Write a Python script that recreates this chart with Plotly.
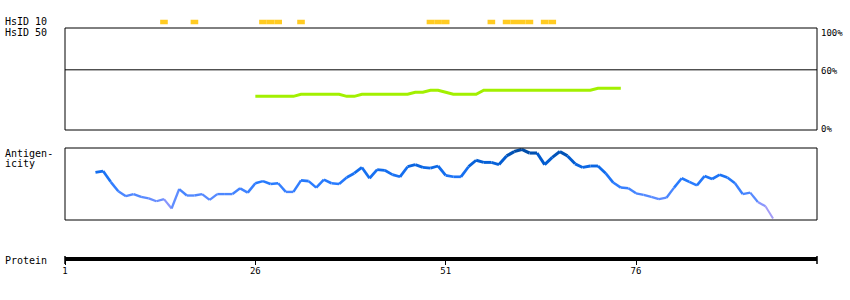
import plotly.graph_objects as go

# ---------------- data ----------------
hsid10_residues = [14, 18, 27, 28, 29, 32, 49, 50, 51, 57, 59, 60, 61, 62, 64, 65]

hsid50_residues = list(range(26, 75))
hsid50_identity = [33, 33, 33, 33, 33, 33,          # 26-31
                   35, 35, 35, 35, 35, 35,          # 32-37
                   33, 33,                          # 38-39
                   35, 35, 35, 35, 35, 35, 35,      # 40-46
                   37, 37, 39, 39, 37,              # 47-51
                   35, 35, 35, 35,                  # 52-55
                   39, 39, 39, 39, 39, 39, 39, 39,  # 56-63
                   39, 39, 39, 39, 39, 39, 39,      # 64-70
                   41, 41, 41, 41]                  # 71-74

antigen_residues = list(range(5, 95))
antigen_values = [0.66, 0.68, 0.53, 0.40, 0.33, 0.36, 0.32, 0.30, 0.26, 0.29,   # 5-14
                  0.16, 0.43, 0.34, 0.34, 0.36, 0.28, 0.36, 0.36, 0.36, 0.44,   # 15-24
                  0.38, 0.51, 0.54, 0.50, 0.51, 0.39, 0.39, 0.55, 0.54, 0.45,   # 25-34
                  0.56, 0.51, 0.50, 0.59, 0.65, 0.73, 0.58, 0.70, 0.69, 0.63,   # 35-44
                  0.60, 0.74, 0.77, 0.73, 0.72, 0.75, 0.62, 0.60, 0.60, 0.74,   # 45-54
                  0.83, 0.80, 0.80, 0.77, 0.89, 0.95, 0.98, 0.93, 0.93, 0.77,   # 55-64
                  0.87, 0.95, 0.89, 0.78, 0.73, 0.75, 0.75, 0.65, 0.52, 0.45,   # 65-74
                  0.44, 0.37, 0.35, 0.32, 0.29, 0.31, 0.45, 0.58, 0.53, 0.48,   # 75-84
                  0.61, 0.57, 0.63, 0.59, 0.51, 0.36, 0.38, 0.25, 0.19, 0.02]   # 85-94

protein_range = [1, 99.77]
protein_tickvals = [1, 26, 51, 76]
protein_ticktext = ["1", "26", "51", "76"]

identity_tickvals = [100, 60, 0]
identity_ticktext = ["100%", "60%", "0%"]

# ---------------- layout helpers ----------------
W, H = 850, 300
L, R = 65, 33
PW = W - L - R


def px_x(px):
    return (px - L) / PW


def px_y(py):
    return 1 - py / H


FONT = "DejaVu Sans Mono"

stops = [(0.0, (180, 162, 242)), (0.2, (150, 152, 252)), (0.3, (92, 140, 255)),
         (0.5, (42, 124, 255)), (0.7, (16, 108, 236)), (0.85, (0, 90, 205)),
         (1.0, (0, 72, 155))]


def color_for(v):
    v = max(0.0, min(1.0, v))
    for (a, ca), (b, cb) in zip(stops[:-1], stops[1:]):
        if a <= v <= b:
            t = (v - a) / (b - a)
            c = [round(ca[i] + (cb[i] - ca[i]) * t) for i in range(3)]
            return "rgb(%d,%d,%d)" % tuple(c)
    return "rgb(%d,%d,%d)" % stops[-1][1]


fig = go.Figure()

# HsID 10 bars
fig.add_trace(go.Bar(x=hsid10_residues, y=[1] * len(hsid10_residues), width=1,
                     marker=dict(color="#ffcb22", line=dict(width=0)),
                     xaxis="x", yaxis="y", showlegend=False, hoverinfo="skip"))

# HsID 50 identity line
fig.add_trace(go.Scatter(x=hsid50_residues, y=hsid50_identity, mode="lines",
                         line=dict(color="#a2f000", width=3),
                         xaxis="x", yaxis="y2", showlegend=False, hoverinfo="skip"))

# Antigenicity, coloured segment by segment
for i in range(len(antigen_residues) - 1):
    v = (antigen_values[i] + antigen_values[i + 1]) / 2
    fig.add_trace(go.Scatter(x=antigen_residues[i:i + 2], y=antigen_values[i:i + 2],
                             mode="lines",
                             line=dict(color=color_for(v), width=1.9 + 1.3 * v),
                             xaxis="x", yaxis="y3", showlegend=False, hoverinfo="skip"))

shapes = [
    dict(type="rect", xref="x domain", yref="y2 domain", x0=0, x1=1, y0=0, y1=1,
         line=dict(color="black", width=1)),
    dict(type="line", xref="x domain", yref="y2", x0=0, x1=1, y0=59, y1=59,
         line=dict(color="black", width=1)),
    dict(type="rect", xref="x domain", yref="y3 domain", x0=0, x1=1, y0=0, y1=1,
         line=dict(color="black", width=1)),
    dict(type="line", xref="x domain", yref="paper", x0=1, x1=1,
         y0=px_y(256), y1=px_y(264), line=dict(color="black", width=1.5)),
    dict(type="line", xref="x domain", yref="paper", x0=0, x1=0,
         y0=px_y(256), y1=px_y(264), line=dict(color="black", width=1.5)),
]

annotations = []
for text, py in [("HsID 10", 21), ("HsID 50", 32), ("Antigen-", 153),
                 ("icity", 163), ("Protein", 260)]:
    annotations.append(dict(text=text, xref="paper", yref="paper", x=px_x(3), y=px_y(py),
                            xanchor="left", yanchor="middle", showarrow=False,
                            font=dict(family=FONT, size=10, color="black")))
label_py = {100: 33, 60: 71, 0: 129}
for val, txt in zip(identity_tickvals, identity_ticktext):
    annotations.append(dict(text=txt, xref="paper", yref="paper", x=px_x(819),
                            y=px_y(label_py[val]), xanchor="left", yanchor="middle",
                            showarrow=False, font=dict(family=FONT, size=9, color="black")))

fig.update_layout(
    width=W, height=H, autosize=False,
    margin=dict(l=L, r=R, t=0, b=0, pad=0),
    paper_bgcolor="white", plot_bgcolor="white",
    showlegend=False,
    xaxis=dict(range=protein_range, domain=[0, 1], anchor="free", position=px_y(259),
               showgrid=False, zeroline=False, showline=True, linecolor="black",
               linewidth=3.5, ticks="outside", ticklen=4, tickwidth=1, tickcolor="black",
               tickvals=protein_tickvals, ticktext=protein_ticktext,
               ticklabelstandoff=-2,
               tickfont=dict(family=FONT, size=9, color="black")),
    yaxis=dict(domain=[px_y(24.5), px_y(19.5)], range=[0, 1], visible=False),
    yaxis2=dict(domain=[px_y(130), px_y(28)], range=[0, 100], visible=False),
    yaxis3=dict(domain=[px_y(220), px_y(148)], range=[0, 1], visible=False),
    shapes=shapes, annotations=annotations,
)

fig.write_html("out.html")
